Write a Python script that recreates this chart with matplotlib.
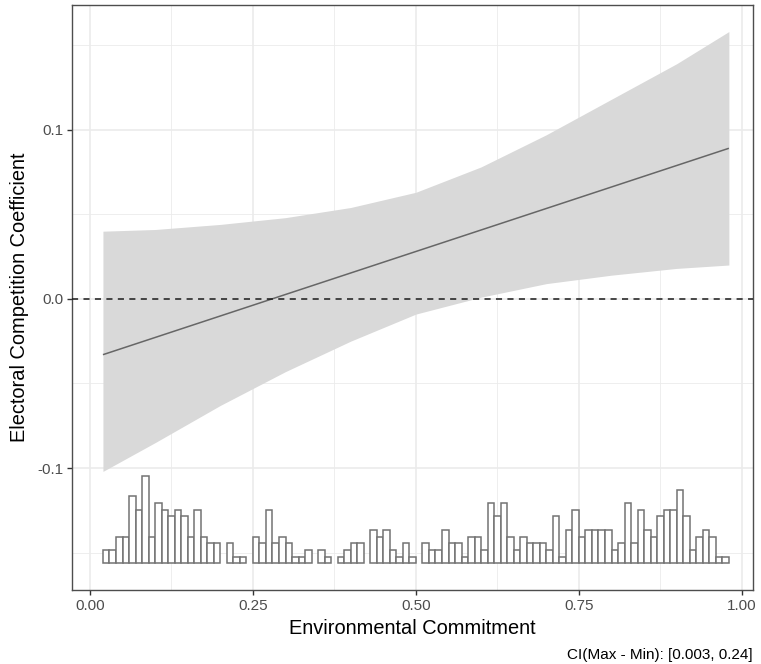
import numpy as np
import matplotlib
matplotlib.use("Agg")
import matplotlib.pyplot as plt

# ---- data ----
# histogram of the moderator (bins of width 0.01 from 0.02 to 0.98)
hist_start = 0.02
hist_binwidth = 0.01
hist_counts = [2, 2, 4, 4, 10, 8, 13, 4, 9, 8, 7, 8, 7, 4, 8, 4,
               3, 3, 0, 3, 1, 1, 0, 4, 3, 8, 3, 4, 3, 1, 1, 2,
               0, 2, 1, 0, 1, 2, 3, 3, 0, 5, 4, 5, 2, 1, 3, 1,
               0, 3, 2, 2, 5, 3, 3, 1, 4, 4, 2, 9, 7, 9, 4, 2,
               4, 3, 3, 3, 2, 7, 1, 5, 8, 4, 5, 5, 5, 5, 2, 3,
               9, 3, 8, 5, 4, 7, 8, 8, 11, 7, 2, 4, 5, 4, 1, 1]
hist_base = -0.1564      # y value of histogram baseline
hist_unit = 0.00397      # y height per count

# confidence band
band_x = [0.02, 0.10, 0.20, 0.30, 0.40, 0.50, 0.60, 0.70, 0.80, 0.90, 0.98]
band_upper = [0.040, 0.041, 0.044, 0.048, 0.054, 0.063, 0.078, 0.097, 0.118, 0.139, 0.158]
band_lower = [-0.102, -0.085, -0.063, -0.043, -0.025, -0.009, 0.001, 0.009, 0.014, 0.018, 0.020]

# estimated coefficient line
line_x = [0.02, 0.98]
line_y = [-0.033, 0.089]

x_ticks = [0.00, 0.25, 0.50, 0.75, 1.00]
x_ticklabels = ["0.00", "0.25", "0.50", "0.75", "1.00"]
y_ticks = [-0.1, 0.0, 0.1]
y_ticklabels = ["-0.1", "0.0", "0.1"]
x_minor = [0.125, 0.375, 0.625, 0.875]
y_minor = [-0.15, -0.05, 0.05, 0.15]

xlabel = "Environmental Commitment"
ylabel = "Electoral Competition Coefficient"
caption = "CI(Max - Min): [0.003, 0.24]"

# ---- figure ----
plt.rcParams['font.family'] = ['Liberation Sans', 'DejaVu Sans']
W, H = 761, 664
fig = plt.figure(figsize=(W / 100, H / 100), dpi=100)
left, right, top, bottom = 72.3, 753.0, 5.0, 590.0
ax = fig.add_axes([left / W, (H - bottom) / H, (right - left) / W, (bottom - top) / H])

ax.set_xlim(-0.027, 1.017)
ax.set_ylim(-0.1721, 0.1737)

grid_col = "#ebebeb"
for v in x_minor:
    ax.axvline(v, color=grid_col, lw=0.6, zorder=0)
for v in y_minor:
    ax.axhline(v, color=grid_col, lw=0.6, zorder=0)
for v in x_ticks:
    ax.axvline(v, color=grid_col, lw=1.2, zorder=0)
for v in y_ticks:
    ax.axhline(v, color=grid_col, lw=1.2, zorder=0)

# band
ax.fill_between(band_x, band_lower, band_upper, color="#d9d9d9", lw=0, zorder=1)

# histogram
counts = np.array(hist_counts, dtype=float)
lefts = hist_start + hist_binwidth * np.arange(len(counts))
mask = counts > 0
ax.bar(lefts[mask], counts[mask] * hist_unit, width=hist_binwidth, bottom=hist_base,
       align="edge", facecolor="white", edgecolor="#737373", lw=1.1, zorder=2)

# line and zero reference
ax.plot(line_x, line_y, color="#666666", lw=1.1, zorder=3, solid_capstyle="butt")
ax.axhline(0.0, color="#1a1a1a", lw=1.1, ls=(0, (4, 3.5)), zorder=4)

ax.set_xticks(x_ticks)
ax.set_xticklabels(x_ticklabels)
ax.set_yticks(y_ticks)
ax.set_yticklabels(y_ticklabels)
ax.tick_params(axis="both", which="major", length=3.6, width=1.0, color="#333333",
               labelsize=11, labelcolor="#4d4d4d", pad=3)
for s in ax.spines.values():
    s.set_color("#4d4d4d")
    s.set_linewidth(1.0)

ax.set_xlabel(xlabel, fontsize=14.4, color="black", labelpad=4)
ax.set_ylabel(ylabel, fontsize=14.4, color="black", labelpad=6)

fig.text(right / W, 1 - 655 / H, caption, ha="right", va="center", fontsize=11, color="black")

fig.savefig("out.png", dpi=100)
